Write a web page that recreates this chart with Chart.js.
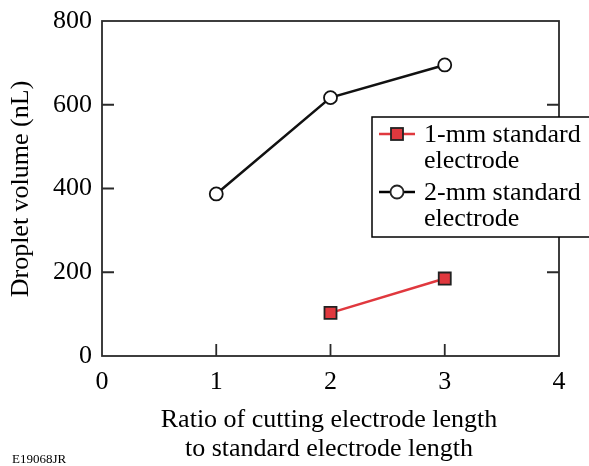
<!DOCTYPE html>
<html>
<head>
<meta charset="utf-8">
<script src="https://cdn.jsdelivr.net/npm/chart.js@4/dist/chart.umd.min.js"></script>
<style>
  html, body { margin: 0; padding: 0; background: #fff; }
  #wrap { width: 589px; height: 466px; position: relative; }
</style>
</head>
<body>
<div id="wrap"><canvas id="chart"></canvas></div>
<script>
const ratios1mm = [2, 3];
const volumes1mm = [103, 185];
const ratios2mm = [1, 2, 3];
const volumes2mm = [387, 617, 695];
const xTicks = [0, 1, 2, 3, 4];
const yTicks = [0, 200, 400, 600, 800];
const seriesNames = [['1-mm standard', 'electrode'], ['2-mm standard', 'electrode']];
const yTitle = 'Droplet volume (nL)';
const xTitle = ['Ratio of cutting electrode length', 'to standard electrode length'];
const figId = 'E19068JR';

const FONT = '"Liberation Serif", "DejaVu Serif", serif';
const FRAME = '#2a2a2a';
const RED = '#e0383e';

const toPoints = (xs, ys) => xs.map((x, i) => ({ x, y: ys[i] }));

// frame, inward ticks, titles and legend
const decorations = {
  id: 'decorations',
  afterDraw(chart) {
    const { ctx, chartArea: a, scales } = chart;
    const { x, y } = scales;
    ctx.save();
    ctx.strokeStyle = FRAME;
    ctx.lineWidth = 1.8;
    ctx.strokeRect(a.left, a.top, a.right - a.left, a.bottom - a.top);

    ctx.beginPath();
    xTicks.slice(1, -1).forEach((v) => {
      const px = x.getPixelForValue(v);
      ctx.moveTo(px, a.bottom);
      ctx.lineTo(px, a.bottom - 12);
    });
    yTicks.slice(1, -1).forEach((v) => {
      const py = y.getPixelForValue(v);
      ctx.moveTo(a.left, py);
      ctx.lineTo(a.left + 12, py);
      ctx.moveTo(a.right, py);
      ctx.lineTo(a.right - 12, py);
    });
    ctx.stroke();

    ctx.fillStyle = '#000';
    ctx.font = '26px ' + FONT;
    ctx.textAlign = 'center';
    ctx.textBaseline = 'middle';
    ctx.fillText(xTitle[0], 329, 420);
    ctx.fillText(xTitle[1], 329, 449);

    ctx.save();
    ctx.translate(21, 189);
    ctx.rotate(-Math.PI / 2);
    ctx.fillText(yTitle, 0, 0);
    ctx.restore();

    ctx.font = '13px ' + FONT;
    ctx.textAlign = 'left';
    ctx.fillText(figId, 12, 460);

    // legend
    const lx = 372, ly = 117;
    ctx.fillStyle = '#fff';
    ctx.fillRect(lx, ly, 230, 120);
    ctx.strokeStyle = '#000';
    ctx.lineWidth = 1.5;
    ctx.strokeRect(lx, ly, 230, 120);

    const rows = [
      { y: 134, color: RED, marker: 'rect' },
      { y: 192, color: '#000', marker: 'circle' },
    ];
    rows.forEach((r, i) => {
      ctx.strokeStyle = r.color;
      ctx.lineWidth = 2.5;
      ctx.beginPath();
      ctx.moveTo(379, r.y);
      ctx.lineTo(415, r.y);
      ctx.stroke();
      ctx.lineWidth = 1.8;
      ctx.strokeStyle = '#222';
      if (r.marker === 'rect') {
        ctx.fillStyle = RED;
        ctx.fillRect(391, r.y - 6, 12, 12);
        ctx.strokeRect(391, r.y - 6, 12, 12);
      } else {
        ctx.fillStyle = '#fff';
        ctx.beginPath();
        ctx.arc(397, r.y, 6.5, 0, Math.PI * 2);
        ctx.fill();
        ctx.stroke();
      }
      ctx.fillStyle = '#000';
      ctx.font = '26px ' + FONT;
      ctx.textAlign = 'left';
      ctx.fillText(seriesNames[i][0], 424, r.y + 1);
      ctx.fillText(seriesNames[i][1], 424, r.y + 27);
    });
    ctx.restore();
  },
};

new Chart(document.getElementById('chart'), {
  type: 'scatter',
  data: {
    datasets: [
      {
        label: seriesNames[0].join(' '),
        data: toPoints(ratios1mm, volumes1mm),
        showLine: true,
        borderColor: RED,
        borderWidth: 2.5,
        pointStyle: 'rect',
        pointRadius: 8.5,
        pointBackgroundColor: RED,
        pointBorderColor: '#222',
        pointBorderWidth: 1.8,
      },
      {
        label: seriesNames[1].join(' '),
        data: toPoints(ratios2mm, volumes2mm),
        showLine: true,
        borderColor: '#111',
        borderWidth: 2.5,
        pointStyle: 'circle',
        pointRadius: 6.5,
        pointBackgroundColor: '#fff',
        pointBorderColor: '#111',
        pointBorderWidth: 1.8,
      },
    ],
  },
  options: {
    responsive: true,
    maintainAspectRatio: false,
    animation: false,
    events: [],
    layout: { padding: { top: 21, right: 30, left: 0, bottom: 0 } },
    plugins: { legend: { display: false }, tooltip: { enabled: false } },
    scales: {
      x: {
        type: 'linear',
        min: 0,
        max: 4,
        afterBuildTicks: (s) => { s.ticks = xTicks.map((v) => ({ value: v })); },
        afterFit: (s) => { s.height = 110; s.paddingLeft = 0; s.paddingRight = 0; },
        grid: { display: false, drawTicks: false },
        border: { display: false },
        ticks: { color: '#000', font: { family: FONT, size: 26 }, padding: 11 },
      },
      y: {
        min: 0,
        max: 800,
        afterBuildTicks: (s) => { s.ticks = yTicks.map((v) => ({ value: v })); },
        afterFit: (s) => { s.width = 102; s.paddingTop = 0; s.paddingBottom = 0; },
        grid: { display: false, drawTicks: false },
        border: { display: false },
        ticks: { color: '#000', font: { family: FONT, size: 26 }, padding: 10 },
      },
    },
  },
  plugins: [decorations],
});
</script>
</body>
</html>
